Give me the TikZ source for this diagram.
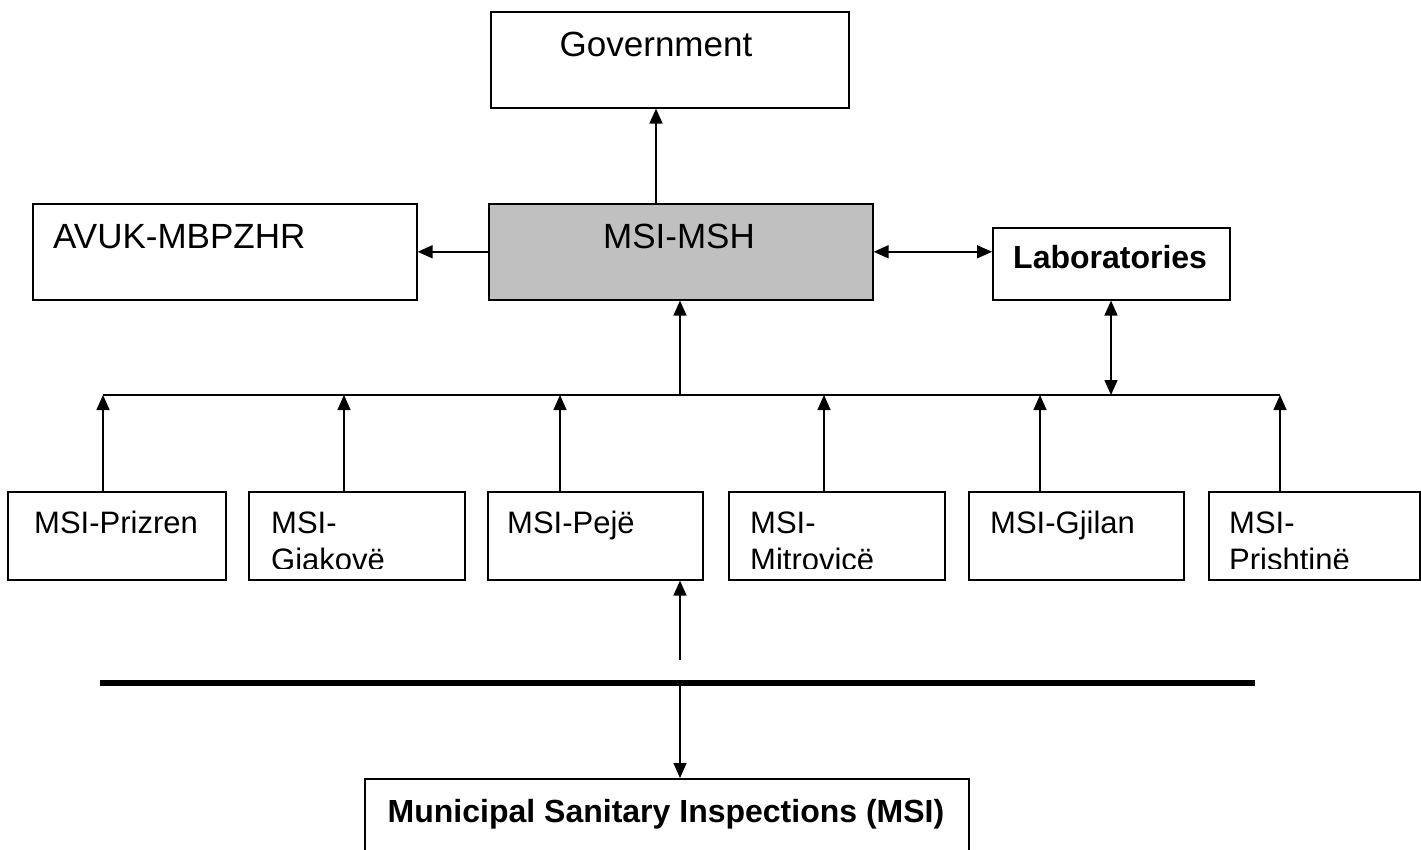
\documentclass[tikz,border=0pt]{standalone}
\usepackage{fontspec}
\setmainfont{Liberation Sans}
\usetikzlibrary{arrows.meta}
\definecolor{mshgray}{HTML}{C0C0C0}
\tikzset{
  box/.style={draw, line width=1.6pt, inner sep=0pt, anchor=north west},
  conn/.style={line width=1.6pt, -{Triangle[length=15pt,width=13pt]}},
  bi/.style={line width=1.6pt, {Triangle[length=15pt,width=13pt]}-{Triangle[length=15pt,width=13pt]}},
  bigtxt/.style={font=\fontsize{35}{40}\selectfont, inner sep=0pt},
  midtxt/.style={font=\fontsize{31}{38}\selectfont, inner sep=0pt, anchor=base west},
  boldtxt/.style={font=\fontsize{32}{38}\selectfont\bfseries, inner sep=0pt},
}
\begin{document}
\begin{tikzpicture}[x=1pt,y=-1pt]
\useasboundingbox (0,0) rectangle (1421,849);
\clip (0,0) rectangle (1421,849);

% top boxes
\node[box, minimum width=358pt, minimum height=96pt] (gov) at (490,11) {};
\node[bigtxt, anchor=base] (govt) at (656,56) {Government};

\node[box, fill=mshgray, minimum width=384pt, minimum height=96pt] (msh) at (488,203) {};
\node[bigtxt, anchor=base] (msht) at (679,248) {MSI-MSH};

\node[box, minimum width=384pt, minimum height=96pt] (avuk) at (32,203) {};
\node[bigtxt, anchor=base west] (avukt) at (53,248) {AVUK-MBPZHR};

\node[box, minimum width=237pt, minimum height=72pt] (lab) at (992,227) {};
\node[boldtxt, anchor=base west] (labt) at (1013,268) {Laboratories};

% lower boxes
\node[box, minimum width=218pt, minimum height=88pt] (b1) at (7,491) {};
\node[box, minimum width=216pt, minimum height=88pt] (b2) at (248,491) {};
\node[box, minimum width=215pt, minimum height=88pt] (b3) at (487,491) {};
\node[box, minimum width=216pt, minimum height=88pt] (b4) at (728,491) {};
\node[box, minimum width=215pt, minimum height=88pt] (b5) at (968,491) {};
\node[box, minimum width=211pt, minimum height=88pt] (b6) at (1208,491) {};

\node[midtxt] (b1t) at (34,533) {MSI-Prizren};
\node[midtxt] (b2t) at (271,533) {MSI-};
\node[midtxt] (b3t) at (507,533) {MSI-Pejë};
\node[midtxt] (b4t) at (750,533) {MSI-};
\node[midtxt] (b5t) at (990,533) {MSI-Gjilan};
\node[midtxt] (b6t) at (1229,533) {MSI-};
\begin{scope}
\clip (248,491) rectangle (464,568);
\node[midtxt] (b2u) at (271,570) {Giakovë};
\end{scope}
\begin{scope}
\clip (728,491) rectangle (944,568);
\node[midtxt] (b4u) at (750,570) {Mitrovicë};
\end{scope}
\begin{scope}
\clip (1208,491) rectangle (1419,568);
\node[midtxt] (b6u) at (1229,570) {Prishtinë};
\end{scope}

% bottom box
\node[box, minimum width=604pt, minimum height=100pt] (msi) at (364,778) {};
\node[boldtxt, anchor=base] (msit) at (666,822) {Municipal Sanitary Inspections (MSI)};

% bus
\coordinate (busL) at (103,395);
\coordinate (busR) at (1280,395);
\coordinate (j2) at (344,395);
\coordinate (j3) at (560,395);
\coordinate (j0) at (680,395);
\coordinate (j4) at (824,395);
\coordinate (j5) at (1040,395);
\coordinate (jl) at (1111,395);
\draw[line width=1.6pt] (busL) -- (busR);

\draw[conn] (b1.north -| busL) -- (busL);
\draw[conn] (b2.north -| j2) -- (j2);
\draw[conn] (b3.north -| j3) -- (j3);
\draw[conn] (b4.north -| j4) -- (j4);
\draw[conn] (b5.north -| j5) -- (j5);
\draw[conn] (b6.north -| busR) -- (busR);

\draw[conn] (j0) -- (msh.south -| j0);
\draw[bi] (lab.south -| jl) -- (jl);

% top connectors
\coordinate (gx) at (656,150);
\draw[conn] (msh.north -| gx) -- (gov.south -| gx);
\draw[conn] (msh.west) -- (avuk.east);
\draw[bi] (msh.east) -- (msh.east -| lab.west);

% lower part
\coordinate (pstart) at (680,660);
\draw[conn] (pstart) -- (pstart |- b3.south);
\coordinate (tL) at (100,683);
\coordinate (tR) at (1255,683);
\coordinate (tM) at (680,683);
\draw[line width=6pt] (tL) -- (tR);
\draw[conn] (tM) -- (tM |- msi.north);
\end{tikzpicture}
\end{document}
